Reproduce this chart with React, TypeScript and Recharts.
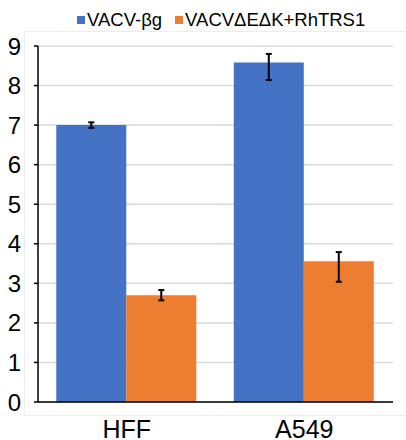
import React from 'react';
import { BarChart, Bar, XAxis, YAxis, CartesianGrid, ErrorBar, Legend } from 'recharts';

const categories = ['HFF', 'A549'];
const betaG = [7.0, 8.58];
const rhTRS1 = [2.7, 3.56];
// [minus, plus]
const betaGErr = [[0.07, 0.07], [0.44, 0.22]];
const rhTRS1Err = [[0.13, 0.13], [0.52, 0.23]];
const yTicks = [0, 1, 2, 3, 4, 5, 6, 7, 8, 9];

const seriesNames = ['VACV-βg', 'VACVΔEΔK+RhTRS1'];
const COLORS = ['#4472C4', '#ED7D31'];

const data = categories.map((name, i) => ({
  name,
  betaG: betaG[i],
  rhTRS1: rhTRS1[i],
  betaGErr: betaGErr[i],
  rhTRS1Err: rhTRS1Err[i],
}));

const FONT = '"Liberation Sans", Arial, sans-serif';

const LegendContent = () => (
  <div style={{ height: 42, position: 'relative', fontFamily: FONT }}>
    <div
      style={{
        position: 'absolute',
        top: 7,
        left: 77,
        display: 'flex',
        alignItems: 'center',
        fontSize: 18.5,
        lineHeight: '18.5px',
        color: '#000',
        whiteSpace: 'nowrap',
      }}
    >
      {seriesNames.map((s, i) => (
        <div key={s} style={{ display: 'flex', alignItems: 'center', marginLeft: i ? 13 : 0 }}>
          <span style={{ width: 8, height: 8, background: COLORS[i], marginRight: 2, display: 'inline-block' }} />
          <span>{s}</span>
        </div>
      ))}
    </div>
  </div>
);

export default function App() {
  return (
    <div style={{ position: 'absolute', left: 0, top: 0, width: 406, height: 440, background: '#fff', overflow: 'hidden' }}>
      <div
        style={{
          position: 'absolute',
          left: 24,
          top: 31,
          width: 400,
          height: 383,
          border: '1px solid #ededed',
        }}
      />
      <BarChart
        width={406}
        height={440}
        data={data}
        margin={{ top: 4, right: 13, bottom: 0, left: 0 }}
        barCategoryGap="10.3%"
        barGap={0}
      >
        <CartesianGrid vertical={false} stroke="#d9d9d9" strokeWidth={1.5} />
        <Legend verticalAlign="top" content={<LegendContent />} />
        <XAxis
          dataKey="name"
          axisLine={{ stroke: '#000', strokeWidth: 1.5 }}
          tickLine={false}
          tickSize={0}
          tickMargin={18}
          height={38}
          tick={{ fill: '#000', fontSize: 25, fontFamily: FONT }}
        />
        <YAxis
          domain={[0, 9]}
          ticks={yTicks}
          interval={0}
          width={38}
          axisLine={{ stroke: '#000', strokeWidth: 1.5 }}
          tickLine={{ stroke: '#000', strokeWidth: 1.5 }}
          tickSize={4}
          tickMargin={13}
          tick={{ fill: '#000', fontSize: 24, fontFamily: FONT }}
        />
        <Bar dataKey="betaG" fill={COLORS[0]} isAnimationActive={false}>
          <ErrorBar dataKey="betaGErr" width={3} stroke="#000" strokeWidth={2} direction="y" />
        </Bar>
        <Bar dataKey="rhTRS1" fill={COLORS[1]} isAnimationActive={false}>
          <ErrorBar dataKey="rhTRS1Err" width={3} stroke="#000" strokeWidth={2} direction="y" />
        </Bar>
      </BarChart>
    </div>
  );
}
